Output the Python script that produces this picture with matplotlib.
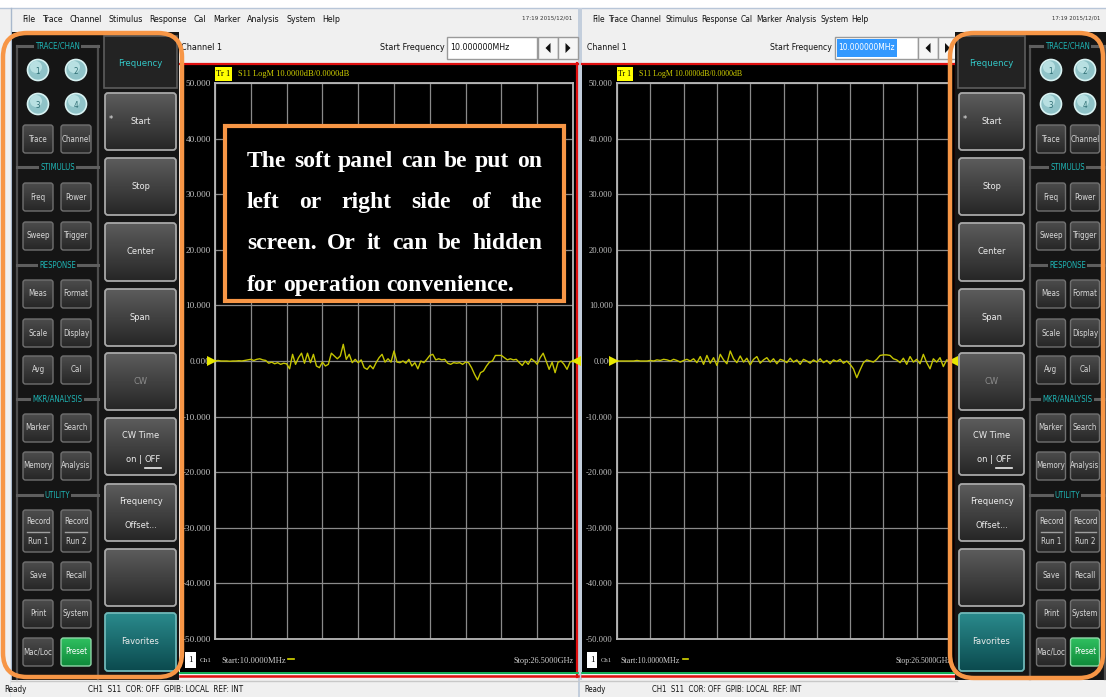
import os
import numpy as np
import matplotlib
matplotlib.use("Agg")
import matplotlib.pyplot as plt
from matplotlib.patches import Rectangle, FancyBboxPatch, Circle, Polygon
from matplotlib.colors import LinearSegmentedColormap
from matplotlib import font_manager
from matplotlib.font_manager import FontProperties
import matplotlib.transforms as mtransforms

# ---------------- data ----------------
menu_items = ["File", "Trace", "Channel", "Stimulus", "Response", "Cal",
              "Marker", "Analysis", "System", "Help"]
clock_text = "17:19 2015/12/01"
channel_title = "Channel 1"
entry_label = "Start Frequency"
entry_value = "10.000000MHz"
trace_tag = "Tr 1"
trace_header = "S11 LogM 10.0000dB/0.0000dB"
start_freq_ghz = 0.01
stop_freq_ghz = 26.5
start_label = "Start:10.0000MHz"
stop_label = "Stop:26.5000GHz"
y_ticks_db = [50, 40, 30, 20, 10, 0, -10, -20, -30, -40, -50]
status_ready = "Ready"
status_items = "CH1  S11  COR: OFF  GPIB: LOCAL  REF: INT"

group_titles = ["TRACE/CHAN", "STIMULUS", "RESPONSE", "MKR/ANALYSIS", "UTILITY"]
trace_numbers = ["1", "2", "3", "4"]
small_buttons = [("Trace", "Channel"), ("Freq", "Power"), ("Sweep", "Trigger"),
                 ("Meas", "Format"), ("Scale", "Display"), ("Avg", "Cal"),
                 ("Marker", "Search"), ("Memory", "Analysis"),
                 ("Record|Run 1", "Record|Run 2"), ("Save", "Recall"),
                 ("Print", "System"), ("Mac/Loc", "Preset")]
freq_menu_title = "Frequency"
freq_menu = ["Start", "Stop", "Center", "Span", "CW", "CW Time|on | OFF",
             "Frequency|Offset...", "", "Favorites"]

note_lines = ["The soft panel can be put on",
              "left or right side of the",
              "screen. Or it can be hidden",
              "for operation convenience."]

# S11 trace (dB), evenly spaced sweep points
left_trace_db = [0.0, 0.1, 0.0, 0.0, 0.0, -0.05, 0.0, 0.0, 0.05, 0.0,
                 0.1, 0.2, 0.3, 0.1, 0.3, 0.4, 0.2, 0.1, -0.4, -0.2,
                 -0.5, -0.3, -0.6, -0.4, -0.5, -1.4, 1.2, -0.6, 0.6, 1.4,
                 -0.4, 1.4, -0.3, 1.2, -0.9, -1.2, -0.2, -0.9, -0.6, 1.4,
                 0.9, 0.4, 0.9, 3.0, 0.3, 1.2, -0.3, 0.3, -0.3, 0.2,
                 -1.2, -1.5, -0.8, -1.4, -0.3, 0.6, 1.2, -0.2, 0.4, -0.2,
                 1.8, -0.2, -0.3, 0.0, -0.4, 0.3, -0.9, -0.3, -1.4, 0.0,
                 -0.3, 0.3, 1.0, 1.2, 0.2, 0.4, 0.2, 0.3, -0.4, -0.6,
                 -0.3, -0.4, -0.3, -0.6, -0.2, -0.3, -1.2, -2.4, -3.4, -2.1,
                 -1.8, -0.9, -0.2, 0.0, 1.0, 1.0, 1.0, 0.6, 0.2, 0.4,
                 0.2, 0.3, -0.3, -0.8, 0.0, -0.6, 0.4, 0.0, -0.6, 0.6,
                 1.4, 0.0, -1.5, -0.2, -2.1, -0.2, 0.0, -0.6, -1.5, -0.2,
                 0.0]
right_trace_db = [0, 0, 0, 0, 0, 0, 0.1, 0, 0, 0, 0.1, 0, 0.2, 0.1, 0.3, 0.2, 0,
                  0.3, 0.1, -0.2, 0.1, 0.3, 0, 0.4, -0.3,
                  0.8, -0.6, 1.0, -0.4, 0.6, -0.8, 1.2, 0.2, -0.5, 1.8, 0.4, -0.3,
                  0.9, -0.2, 0.5, -0.7, 0.3, 0.8, -0.4, 0.2, 0.6,
                  -0.2, 0.4, -0.5, 0.3, 0.1, -0.3, 0.5, -0.2, 0.2, -0.6, 0.3, 0.0,
                  -0.4, 0.2, -0.2, 0.4, -0.3, 0.1, -0.5, 0.2, -0.1, 0.3, -0.4, 0.0, -0.6,
                  -1.4, -3.0, -1.6, -0.3, 0.2, 0.0, -0.2, 0.3, 1.0, 1.1,
                  1.1, 1.0, 0.4, 0.2, -0.3, 0.5, -0.6, 0.8, -0.2, 0.3, -0.5, 1.2,
                  -0.3, -1.4, 0.4, -0.2, 0.6, -1.0, 0.2, 0.0]

# ---------------- fonts ----------------
names = {f.name for f in font_manager.fontManager.ttflist}
SERIF = "Liberation Serif" if "Liberation Serif" in names else "DejaVu Serif"

_bad = ("bold", "italic", "oblique", "mono", "serif", "light", "semi", "extra",
        "black", "medium", "thin", "heavy", "book")
_cond = []
for f in font_manager.fontManager.ttflist:
    fn = os.path.basename(f.fname).lower()
    if ("condensed" in fn or "narrow" in fn) and not any(b in fn for b in _bad):
        _cond.append(f.fname)
_pref = ["liberationsansnarrow", "dejavusanscondensed", "robotocondensed",
         "notosanscondensed", "opensanscondensed"]
UIFILE = None
for p in _pref:
    for fn in _cond:
        if p in os.path.basename(fn).lower().replace("-", "").replace("_", ""):
            UIFILE = fn
            break
    if UIFILE:
        break
if UIFILE is None and _cond:
    UIFILE = sorted(_cond)[0]
if UIFILE:
    UIFP = FontProperties(fname=UIFILE)
else:
    UIFP = FontProperties(family="DejaVu Sans")

W, H = 1106, 697
fig = plt.figure(figsize=(W / 100, H / 100), dpi=100)
R = fig.canvas.get_renderer()

bg = fig.add_axes([0, 0, 1, 1])
bg.set_axis_off()
bg.set_xlim(0, W)
bg.set_ylim(H, 0)
bg.set_zorder(0)

# calibrate the UI font to the condensed font of the screenshot
_t = bg.text(0, 0, "Frequency", fontproperties=UIFP, fontsize=10)
UIK = (44.0 / _t.get_window_extent(R).width) * 10 / 9.0
_t.remove()


def T(ax, x, y, s, size, color, ha="center", va="center", z=8, **kw):
    return ax.text(x, y, s, fontproperties=UIFP, fontsize=size * UIK, color=color,
                   ha=ha, va=va, zorder=z, **kw)


def width_of(t):
    return t.get_window_extent(R).width


def fit(ax, x, y, s, width, color, family, ha="left", va="center", z=8, **kw):
    t = ax.text(x, y, s, fontsize=10, family=family, color=color, ha=ha, va=va,
                zorder=z, **kw)
    t.set_fontsize(10 * width / width_of(t))
    return t


def spread(ax, words, x0, x1, y, size, color, z=8):
    ts = [T(ax, x0, y, w, size, color, ha="left", z=z) for w in words]
    ws = [width_of(t) for t in ts]
    gap = (x1 - x0 - sum(ws)) / (len(ws) - 1)
    x = x0
    for t, w in zip(ts, ws):
        t.set_x(x)
        x += w + gap


def grad_box(ax, x0, y0, x1, y1, c_top, c_bot, ec, lw=1.0, r=3, z=3):
    patch = FancyBboxPatch((x0, y0), x1 - x0, y1 - y0,
                           boxstyle=f"round,pad=0,rounding_size={r}",
                           fc="none", ec=ec, lw=lw, zorder=z + 0.5)
    ax.add_patch(patch)
    cmap = LinearSegmentedColormap.from_list("g", [c_top, c_bot])
    grad = np.linspace(0, 1, 64).reshape(-1, 1)
    im = ax.imshow(grad, cmap=cmap, extent=(x0, x1, y1, y0), origin="upper",
                   aspect="auto", zorder=z, interpolation="bilinear")
    im.set_clip_path(patch)
    return patch


# ---------------- window chrome ----------------
bg.add_patch(Rectangle((0, 0), W, H, fc="#f0f0f0", ec="none", zorder=0))
bg.add_patch(Rectangle((0, 0), W, 8, fc="#ffffff", ec="none", zorder=0.5))
bg.plot([0, W], [8, 8], color="#b8c6d8", lw=1, zorder=1)
bg.plot([10.5, 10.5], [8, H], color="#a8b8cc", lw=1, zorder=1)
bg.add_patch(Rectangle((578, 8), 4, H, fc="#c3cedc", ec="none", zorder=1))

BIG_Y = [(93, 150), (158, 215), (223, 281), (289, 346), (353, 410), (418, 475),
         (484, 541), (549, 606), (613, 671)]
SMALL_Y = [139, 197, 236, 294, 333, 370, 428, 466, 531, 576, 614, 652]
TITLE_Y = [46, 167, 265, 399, 495]


def draw_window(x0, x1, menu_x0, menu_x1, clock_x, ch_x, lab_x, ent, arrows,
                plot_x0, plot_x1, scale, fs, selected):
    # menu
    spread(bg, menu_items, menu_x0, menu_x1, 20, 8.4 * fs, "#111111")
    T(bg, clock_x, 18, clock_text, 6.0 * fs, "#333333", ha="right")
    # tool bar
    T(bg, ch_x, 48, channel_title, 8.6 * fs, "#111111", ha="left")
    T(bg, lab_x, 48, entry_label, 8.6 * fs, "#111111", ha="right")
    ex0, ex1 = ent
    bg.add_patch(Rectangle((ex0, 37), ex1 - ex0, 22, fc="white", ec="#9a9a9a",
                           lw=1, zorder=2))
    et = T(bg, ex0 + 3, 48, entry_value, 8.4 * fs,
           "white" if selected else "#111111", ha="left")
    if selected:
        bg.add_patch(Rectangle((ex0 + 2, 39), width_of(et) + 3, 18, fc="#3399ff",
                               ec="none", zorder=3))
    for (a0, a1), d in zip(arrows, (-1, 1)):
        bg.add_patch(Rectangle((a0, 37), a1 - a0, 22, fc="#f6f6f6", ec="#9a9a9a",
                               lw=1, zorder=2))
        cx = (a0 + a1) / 2
        bg.add_patch(Polygon([(cx - 2.5 * d, 43), (cx - 2.5 * d, 53), (cx + 2.5 * d, 48)],
                             closed=True, fc="#111111", ec="none", zorder=3))
    # plot screen
    bg.add_patch(Rectangle((x0, 63), x1 - x0, 611, fc="#000000", ec="none", zorder=1))
    bg.plot([x0, x1], [63.5, 63.5], color="#e01010", lw=1.6, zorder=2)
    bg.plot([x1 - 1, x1 - 1], [63, 677], color="#e01010", lw=1.6, zorder=2)
    bg.plot([x0, x1], [672.5, 672.5], color="#10c060", lw=1.3, zorder=2)
    bg.plot([x0, x1], [676, 676], color="#e01010", lw=1.8, zorder=2)
    # trace header
    tag_w = 17 * scale
    bg.add_patch(Rectangle((plot_x0, 67), tag_w, 14, fc="#ffff00", ec="none", zorder=3))
    fit(bg, plot_x0 + 1, 74.5, trace_tag, tag_w - 3, "#000000", SERIF)
    fit(bg, plot_x0 + tag_w + 6, 74.5, trace_header, 110 * scale, "#d0d000", SERIF)
    # bottom line
    bx = x0 + 5
    bg.add_patch(Rectangle((bx, 652), 11 * scale, 16, fc="#ffffff", ec="none", zorder=3))
    fit(bg, bx + 5.5 * scale, 660.5, "1", 4.5, "#000000", SERIF, ha="center")
    fit(bg, bx + 15 * scale, 661, "Ch1", 12 * scale, "#d0d0d0", SERIF)
    fit(bg, bx + 36 * scale, 661, start_label, 64 * scale, "#d0d0d0", SERIF)
    bg.plot([bx + 103 * scale, bx + 109 * scale], [659, 659], color="#d8d800", lw=1.2,
            zorder=3)
    fit(bg, plot_x1 + 1, 661, stop_label, 60 * scale, "#d0d0d0", SERIF, ha="right")
    # status bar
    sx0 = x0 - 2 if x0 > 300 else 11
    bg.add_patch(Rectangle((sx0, 680), x1 - sx0, 17, fc="#f0f0f0", ec="none", zorder=1.5))
    bg.plot([sx0, x1], [680.5, 680.5], color="#c8c8c8", lw=1, zorder=2)


draw_window(180, 578, 22, 340, 572, 181, 445, (447, 537),
            [(538, 558), (558, 578)], 215, 573, 1.0, 1.0, False)
draw_window(582, 957, 592, 869, 1100, 587, 832, (835, 918),
            [(918, 938), (938, 957)], 617, 950, 0.93, 0.95, True)

T(bg, 4, 689, status_ready, 7.6, "#111111", ha="left", z=9)
T(bg, 88, 689, status_items, 7.6, "#111111", ha="left", z=9)
T(bg, 584, 689, status_ready, 7.4, "#111111", ha="left", z=9)
T(bg, 652, 689, status_items, 7.4, "#111111", ha="left", z=9)


# ---------------- soft panels ----------------
def draw_panel(px0, px1, fx0, fx1, gx0, gx1, cxa, cxb, sw):
    bg.add_patch(Rectangle((px0, 32), px1 - px0, 648, fc="#151515", ec="none", zorder=2))
    # Frequency column
    bg.add_patch(Rectangle((fx0, 36), fx1 - fx0, 52, fc="#232323", ec="#5c5c5c",
                           lw=1.2, zorder=3))
    T(bg, (fx0 + fx1) / 2, 63, freq_menu_title, 9, "#33c6c6")
    fcx = (fx0 + fx1) / 2
    for (y0, y1), lab in zip(BIG_Y, freq_menu):
        if lab == "Favorites":
            grad_box(bg, fx0 + 1, y0, fx1 - 1, y1, "#2a8a8c", "#0b4a4e", "#6fb8b8",
                     lw=1.3, r=3)
        else:
            grad_box(bg, fx0 + 1, y0, fx1 - 1, y1, "#5c5c5c", "#262626", "#a8a8a8",
                     lw=1.3, r=3)
        yc = (y0 + y1) / 2
        if "|" in lab:
            l1, l2 = lab.split("|", 1)
            T(bg, fcx, yc - 11, l1, 8.8, "#ececec")
            if l2.startswith("on"):
                T(bg, fcx + 1, yc + 13, "on |", 8.8, "#ececec", ha="right")
                b = T(bg, fcx + 4, yc + 13, "OFF", 8.8, "#ececec", ha="left")
                wb = width_of(b)
                bg.plot([fcx + 4, fcx + 4 + wb], [yc + 21, yc + 21], color="#ececec",
                        lw=1.2, zorder=8)
            else:
                T(bg, fcx, yc + 13, l2, 8.8, "#ececec")
        elif lab:
            col = "#8c8c8c" if lab == "CW" else "#ececec"
            T(bg, fcx, yc, lab, 8.8, col)
        if lab == "Start":
            T(bg, fx0 + 5, yc - 2, "*", 9, "#ececec", ha="left")
    # group frame
    bg.plot([gx0, gx0], [TITLE_Y[0], 679], color="#4e4e4e", lw=1.6, zorder=3)
    bg.plot([gx1, gx1], [TITLE_Y[0], 679], color="#4e4e4e", lw=1.6, zorder=3)
    for title, y in zip(group_titles, TITLE_Y):
        bg.plot([gx0, gx1], [y, y], color="#5e5e5e", lw=2.2, zorder=3)
        T(bg, (gx0 + gx1) / 2, y, title, 7.4, "#1fb6b6",
          bbox=dict(fc="#151515", ec="none", pad=0.8))
    # trace circles
    for num, (cx, cy) in zip(trace_numbers,
                             [(cxa, 70), (cxb, 70), (cxa, 104), (cxb, 104)]):
        bg.add_patch(Circle((cx, cy), 10.5, fc="#8fc3c8", ec="#d8f2f2", lw=1.2, zorder=4))
        bg.add_patch(Circle((cx - 2, cy - 3), 6, fc="#b8e0e2", ec="none", zorder=4.2))
        T(bg, cx, cy + 1, num, 7.6, "#2f6e74")
    # small buttons
    for (la, lb), yc in zip(small_buttons, SMALL_Y):
        for lab, cx in ((la, cxa), (lb, cxb)):
            h = 42 if "|" in lab else 28
            if lab == "Preset":
                grad_box(bg, cx - sw / 2, yc - h / 2, cx + sw / 2, yc + h / 2,
                         "#2fc060", "#0f8a3a", "#8fd8a8", lw=1.0, r=2.5, z=4)
            else:
                grad_box(bg, cx - sw / 2, yc - h / 2, cx + sw / 2, yc + h / 2,
                         "#4c4c4c", "#262626", "#707070", lw=1.0, r=2.5, z=4)
            if "|" in lab:
                l1, l2 = lab.split("|")
                T(bg, cx, yc - 10, l1, 7.5, "#d8d8d8")
                bg.plot([cx - sw / 2 + 4, cx + sw / 2 - 4], [yc + 1, yc + 1],
                        color="#a0a0a0", lw=1, zorder=8)
                T(bg, cx, yc + 11, l2, 7.5, "#d8d8d8")
            else:
                col = "#ffffff" if lab == "Preset" else "#d8d8d8"
                T(bg, cx, yc, lab, 7.5, col)


draw_panel(12, 179, 104, 177, 17, 98, 38, 76, 30)
draw_panel(955, W, 958, 1025, 1030, 1105, 1051, 1085, 29)

bg.set_xlim(0, W)
bg.set_ylim(H, 0)


# ---------------- measurement plots ----------------
def fig_rect(x0, y0, x1, y1):
    return [x0 / W, 1 - y1 / H, (x1 - x0) / W, (y1 - y0) / H]


def draw_plot(rect, trace, label_w):
    ax = fig.add_axes(rect)
    ax.set_zorder(1)
    ax.patch.set_alpha(0)
    f = np.linspace(start_freq_ghz, stop_freq_ghz, len(trace))
    ax.plot(f, trace, color="#c4c400", lw=1.0, zorder=3)
    ax.set_xlim(start_freq_ghz, stop_freq_ghz)
    ax.set_ylim(-50, 50)
    ax.set_xticks(np.linspace(start_freq_ghz, stop_freq_ghz, 11))
    ax.set_yticks(y_ticks_db)
    ax.grid(True, color="#8a8a8a", lw=0.9)
    ax.set_xticklabels([])
    ax.tick_params(length=0)
    for s in ax.spines.values():
        s.set_color("#b8b8b8")
        s.set_linewidth(1.3)
    labels = ax.set_yticklabels([f"{v:.3f}" for v in y_ticks_db], family=SERIF,
                                color="#c4c4c4")
    probe = ax.text(0, 0, "50.000", fontsize=10, family=SERIF)
    size = 10 * label_w / width_of(probe)
    probe.remove()
    for lb in labels:
        lb.set_fontsize(size)
    ax.tick_params(axis="y", pad=3)
    trl = mtransforms.offset_copy(ax.transData, fig=fig, x=-3, y=0, units="dots")
    trr = mtransforms.offset_copy(ax.transData, fig=fig, x=3, y=0, units="dots")
    ax.plot([start_freq_ghz], [0], marker=">", color="#e8e800", ms=7, mew=0,
            clip_on=False, transform=trl, zorder=4)
    ax.plot([stop_freq_ghz], [0], marker="<", color="#e8e800", ms=7, mew=0,
            clip_on=False, transform=trr, zorder=4)
    return ax


draw_plot(fig_rect(215, 83, 573, 639), left_trace_db, 25)
draw_plot(fig_rect(617, 83, 950, 639), right_trace_db, 23)

# ---------------- overlay: annotations ----------------
ov = fig.add_axes([0, 0, 1, 1])
ov.set_axis_off()
ov.set_zorder(2)
ov.patch.set_alpha(0)
ov.set_xlim(0, W)
ov.set_ylim(H, 0)

ORANGE = "#f79646"
ov.add_patch(FancyBboxPatch((3, 33), 179, 644, boxstyle="round,pad=0,rounding_size=24",
                            fc="none", ec=ORANGE, lw=3.2, zorder=5))
ov.add_patch(FancyBboxPatch((950, 33), 153, 645, boxstyle="round,pad=0,rounding_size=24",
                            fc="none", ec=ORANGE, lw=3.2, zorder=5))
note_box = Rectangle((225, 126), 339, 175, fc="#000000", ec="none", zorder=3)
ov.add_patch(note_box)
ov.add_patch(Rectangle((225, 126), 339, 175, fc="none", ec=ORANGE, lw=3, zorder=6))

clip = Rectangle((225, 126), 339, 172, transform=ov.transData)
baselines = [167, 208, 249, 291]
for i, (line, yb) in enumerate(zip(note_lines, baselines)):
    words = line.split()
    ts = [ov.text(247, yb, w, fontsize=17, family=SERIF, weight="bold",
                  color="white", ha="left", va="baseline", zorder=4) for w in words]
    for t in ts:
        t.set_clip_path(clip)
    ws = [width_of(t) for t in ts]
    if i < len(note_lines) - 1:
        gap = (542 - 247 - sum(ws)) / (len(ws) - 1)
    else:
        gap = 0.25 * 17 * 100 / 72
    x = 247
    for t, w in zip(ts, ws):
        t.set_x(x)
        x += w + gap

fig.savefig("out.png", dpi=100)
